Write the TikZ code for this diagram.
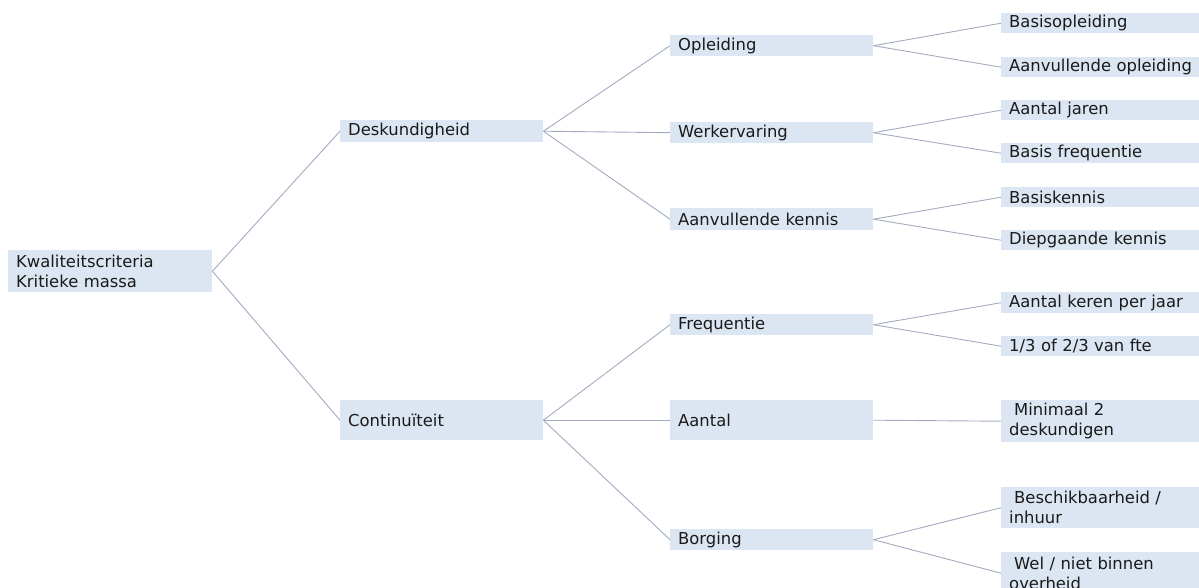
\documentclass[tikz,border=0pt]{standalone}
\usepackage{fontspec}
\setmainfont{DejaVu Sans}
\definecolor{boxblue}{HTML}{DCE6F2}
\definecolor{linecol}{HTML}{A2ABC0}
\definecolor{txt}{HTML}{1A1A1A}
\tikzset{
  box/.style={fill=boxblue, draw=none, anchor=north west, inner xsep=8pt, inner ysep=0pt,
    align=left, text=txt, font=\fontsize{16.4}{20}\selectfont},
  wbox/.style={box, minimum width=203pt, text width=187pt},
  rbox/.style={box, minimum width=230pt, text width=214pt},
  conn/.style={draw=linecol, line width=0.9pt}
}
\begin{document}
\begin{tikzpicture}[x=1pt,y=-1pt]
\useasboundingbox (0,0) rectangle (1199,587);
\clip (0,0) rectangle (1199,587);
% root
\node[box, minimum width=204pt, text width=188pt, minimum height=42pt] (root) at (8,250) {Kwaliteitscriteria\\Kritieke massa};
% level 1
\node[wbox, minimum height=22pt] (desk) at (340,120) {Deskundigheid};
\node[wbox, minimum height=40pt] (cont) at (340,400) {Continuïteit};
% level 2
\node[wbox, minimum height=21pt] (opl) at (670,35) {Opleiding};
\node[wbox, minimum height=21pt] (werk) at (670,122) {Werkervaring};
\node[wbox, minimum height=22pt] (aank) at (670,208) {Aanvullende kennis};
\node[wbox, minimum height=21pt] (freq) at (670,314) {Frequentie};
\node[wbox, minimum height=40pt] (aant) at (670,400) {Aantal};
\node[wbox, minimum height=21pt] (borg) at (670,529) {Borging};
% level 3
\node[rbox, minimum height=20pt] (bopl) at (1001,13) {Basisopleiding};
\node[rbox, minimum height=20pt] (aopl) at (1001,57) {Aanvullende opleiding};
\node[rbox, minimum height=20pt] (ajar) at (1001,100) {Aantal jaren};
\node[rbox, minimum height=20pt] (bfreq) at (1001,143) {Basis frequentie};
\node[rbox, minimum height=20pt] (bken) at (1001,187) {Basiskennis};
\node[rbox, minimum height=20pt] (dken) at (1001,230) {Diepgaande kennis};
\node[rbox, minimum height=21pt] (aker) at (1001,292) {Aantal keren per jaar};
\node[rbox, minimum height=20pt] (fte) at (1001,336) {1/3 of 2/3 van fte};
\node[rbox, minimum height=42pt] (mini) at (1001,400) {\hspace{5pt}Minimaal 2\\deskundigen};
\node[rbox, minimum height=41pt] (besch) at (1001,487) {\hspace{5pt}Beschikbaarheid /\\inhuur};
\node[rbox, minimum height=42pt] (wel) at (1001,552) {\hspace{5pt}Wel / niet binnen\\overheid};
% connectors
\draw[conn] (root.east) -- (desk.west);
\draw[conn] (root.east) -- (cont.west);
\draw[conn] (desk.east) -- (opl.west);
\draw[conn] (desk.east) -- (werk.west);
\draw[conn] (desk.east) -- (aank.west);
\draw[conn] (cont.east) -- (freq.west);
\draw[conn] (cont.east) -- (aant.west);
\draw[conn] (cont.east) -- (borg.west);
\draw[conn] (opl.east) -- (bopl.west);
\draw[conn] (opl.east) -- (aopl.west);
\draw[conn] (werk.east) -- (ajar.west);
\draw[conn] (werk.east) -- (bfreq.west);
\draw[conn] (aank.east) -- (bken.west);
\draw[conn] (aank.east) -- (dken.west);
\draw[conn] (freq.east) -- (aker.west);
\draw[conn] (freq.east) -- (fte.west);
\draw[conn] (aant.east) -- (mini.west);
\draw[conn] (borg.east) -- (besch.west);
\draw[conn] (borg.east) -- (wel.west);
\end{tikzpicture}
\end{document}
